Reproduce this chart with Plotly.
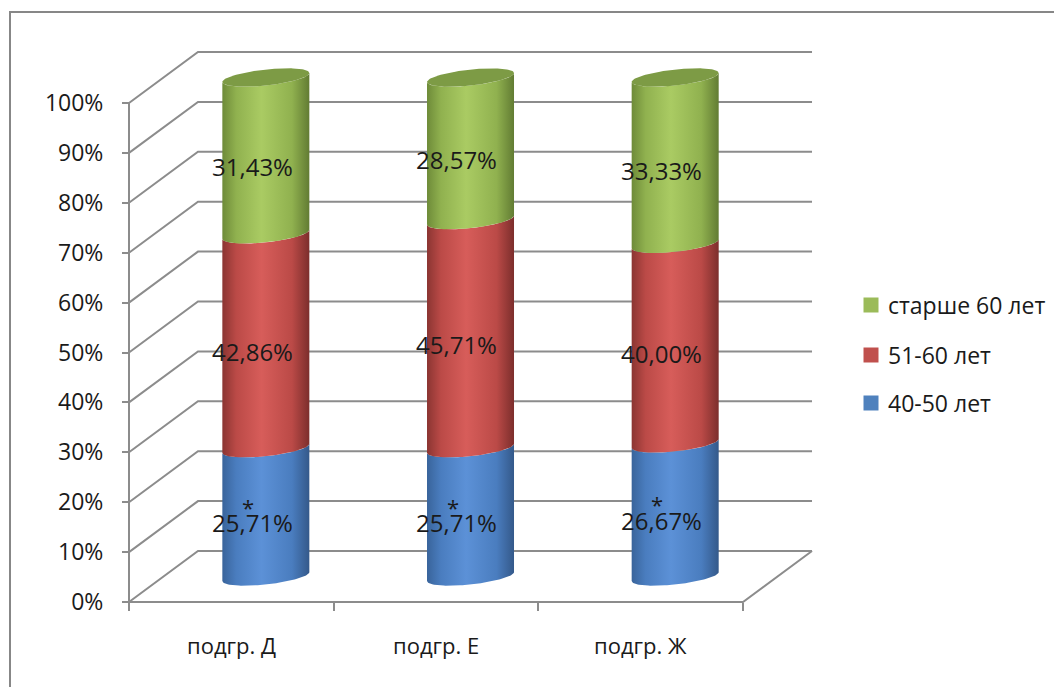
import numpy as np
import plotly.graph_objects as go

# ---- data -------------------------------------------------------------
categories = ["подгр. Д", "подгр. Е", "подгр. Ж"]
series_names = ["40-50 лет", "51-60 лет", "старше 60 лет"]
age_40_50 = [25.71, 25.71, 26.67]
age_51_60 = [42.86, 45.71, 40.00]
age_60_plus = [31.43, 28.57, 33.33]
marked = ["*", "*", "*"]          # marker shown above the 40-50 label
y_ticks = [0, 10, 20, 30, 40, 50, 60, 70, 80, 90, 100]
y_tick_labels = [f"{v}%" for v in y_ticks]

series_values = [age_40_50, age_51_60, age_60_plus]

# ---- styling ------------------------------------------------------------
W, H = 1054, 687
FONT = "Open Sans"
TEXT = "#1a1a1a"
GRID = "#8c8c8c"
shades = [  # dark edge, mid, highlight, far edge
    ("#39649b", "#4a7dbf", "#5c91d7", "#34598a"),
    ("#8b3532", "#bb4a47", "#d75d5a", "#7c2e2c"),
    ("#6e8b39", "#90b14f", "#aacb63", "#627c33"),
]
legend_colors = ["#4f81bd", "#c0504d", "#9bbb59"]
cap_color = "#7d9b45"

# projection of the 3D box onto the page: front plane is category 0..3 by 0..100 %
X0_PX, CAT_PX = 129.0, 204.67          # pixel of category 0, pixels per category
Y0_PX, PCT_PX = 602.0, 4.99            # pixel of 0 %, pixels per percent
DEPTH_X = 69.0 / CAT_PX                # back-wall offset, category units
DEPTH_Y = 51.0 / PCT_PX                # back-wall offset, percent units

def px_x(p):
    return (p - X0_PX) / CAT_PX

def px_y(p):
    return (Y0_PX - p) / PCT_PX

x_range = [px_x(0), px_x(W)]
y_range = [px_y(H), px_y(0)]

fig = go.Figure()

# ---- walls and gridlines ---------------------------------------------
n_cat = len(categories)
gx, gy = [], []
for v in y_ticks:
    gx += [0, DEPTH_X, n_cat + DEPTH_X, None]
    gy += [v, v + DEPTH_Y, v + DEPTH_Y, None]
gx += [0, 0, None, 0, n_cat, n_cat + DEPTH_X, None]
gy += [0, y_ticks[-1], None, 0, 0, DEPTH_Y, None]
fig.add_trace(go.Scatter(x=gx, y=gy, mode="lines",
                         line=dict(color=GRID, width=2),
                         hoverinfo="skip", showlegend=False))

# ---- cylinders --------------------------------------------------------
RAD_X = 43.5 / CAT_PX      # horizontal radius
RAD_Y = 8.0 / PCT_PX       # vertical half-depth of the ellipse
TILT = 4.5 / PCT_PX        # perspective tilt of the ellipse

def ellipse(cx, cy, t):
    return cx + RAD_X * np.cos(t), cy + RAD_Y * np.sin(t) + TILT * np.cos(t)

front = np.linspace(np.pi, 2 * np.pi, 60)
full = np.linspace(0, 2 * np.pi, 120)

for i in range(n_cat):
    cx = i + 0.5 + DEPTH_X / 2
    base = DEPTH_Y / 2
    bottom = 0.0
    for k, vals in enumerate(series_values):
        top = bottom + vals[i]
        bx, by = ellipse(cx, base + bottom, front)
        tx, ty = ellipse(cx, base + top, front[::-1])
        px_ = np.concatenate([bx, tx, bx[:1]])
        py_ = np.concatenate([by, ty, by[:1]])
        d, m, l, f = shades[k]
        fig.add_trace(go.Scatter(
            x=px_, y=py_, mode="lines", fill="toself",
            line=dict(width=0),
            fillgradient=dict(type="horizontal",
                              colorscale=[[0, d], [0.16, m], [0.45, l],
                                          [0.8, m], [1, f]]),
            hoverinfo="skip", showlegend=False))
        bottom = top
    # top cap
    ex, ey = ellipse(cx, base + bottom, full)
    fig.add_trace(go.Scatter(x=ex, y=ey, mode="lines", fill="toself",
                             fillcolor=cap_color, line=dict(width=0),
                             hoverinfo="skip", showlegend=False))

# ---- data labels --------------------------------------------------------
LABEL_DEPTH = 0.3
LABEL_SIZE = 24
annotations = []
for i in range(n_cat):
    bottom = 0.0
    for k, vals in enumerate(series_values):
        mid = bottom + vals[i] / 2
        lx = i + 0.5 + LABEL_DEPTH * DEPTH_X
        ly = mid + LABEL_DEPTH * DEPTH_Y
        annotations.append(dict(
            x=lx, y=ly, xref="x", yref="y", showarrow=False,
            text=f"{vals[i]:.2f}".replace(".", ",") + "%",
            font=dict(family=FONT, size=LABEL_SIZE, color=TEXT)))
        if k == 0:
            annotations.append(dict(
                x=lx, y=ly, xref="x", yref="y", showarrow=False,
                text=marked[i], xshift=-4, yshift=16,
                font=dict(family=FONT, size=22, color=TEXT)))
        bottom += vals[i]

# category labels under the floor
for i, c in enumerate(categories):
    annotations.append(dict(
        x=i + 0.5, y=0, xref="x", yref="y", yshift=-43, showarrow=False,
        text=c, font=dict(family=FONT, size=22, color=TEXT)))

# ---- legend (top entry = last series) --------------------------------
legend_rows_px = [403, 355, 305]
legend_sq_x = 871
fig.add_trace(go.Scatter(
    x=[px_x(legend_sq_x)] * 3, y=[px_y(p) for p in legend_rows_px],
    mode="markers",
    marker=dict(symbol="square", size=15, color=legend_colors,
                line=dict(width=0)),
    hoverinfo="skip", showlegend=False))
for name, p in zip(series_names, legend_rows_px):
    annotations.append(dict(
        x=886 / W, y=1 - p / H, xref="paper", yref="paper",
        xanchor="left", yanchor="middle", showarrow=False, text=name,
        font=dict(family=FONT, size=23, color=TEXT)))

fig.update_layout(
    width=W, height=H, autosize=False,
    margin=dict(l=0, r=0, t=0, b=0),
    paper_bgcolor="white", plot_bgcolor="white",
    showlegend=False,
    annotations=annotations,
    shapes=[dict(type="rect", xref="paper", yref="paper",
                 x0=10 / W, y0=1 - 12 / H, x1=1.05, y1=-0.05,
                 line=dict(color="#878787", width=2), layer="below")],
    xaxis=dict(range=x_range, showgrid=False, zeroline=False,
               showline=False, tickmode="array",
               tickvals=list(range(n_cat + 1)), showticklabels=False,
               ticks="outside", ticklen=8, tickwidth=2, tickcolor=GRID,
               anchor="free", position=(H - Y0_PX) / H, fixedrange=True),
    yaxis=dict(range=y_range, showgrid=False, zeroline=False,
               showline=False, tickmode="array", tickvals=y_ticks,
               ticktext=y_tick_labels, ticks="outside", ticklen=7,
               tickwidth=2, tickcolor=GRID, ticklabelstandoff=14,
               tickfont=dict(family=FONT, size=23, color=TEXT),
               anchor="free", position=X0_PX / W, fixedrange=True),
)

fig.write_html("out.html")
